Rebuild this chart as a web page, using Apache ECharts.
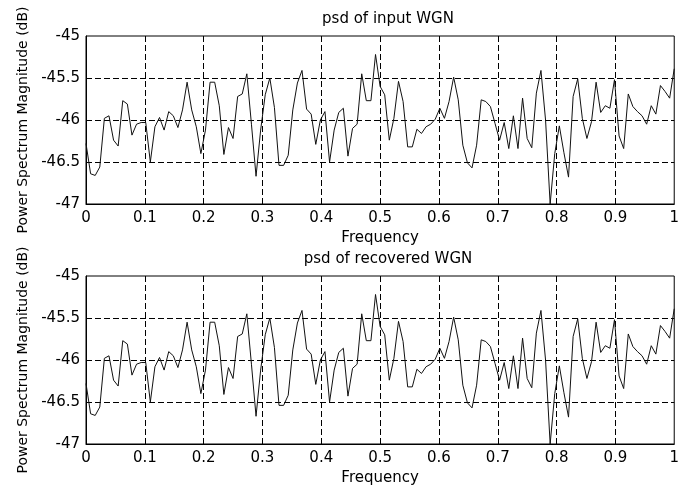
<!DOCTYPE html>
<html>
<head>
<meta charset="utf-8">
<title>psd of WGN</title>
<script src="https://cdn.jsdelivr.net/npm/echarts@6/dist/echarts.min.js"></script>
<style>
  html, body { margin: 0; padding: 0; background: #fff; }
  #chart { width: 682px; height: 493px; }
</style>
</head>
<body>
<div id="chart"></div>
<script>
// psd values (dB), 129 bins from 0 to 1 (normalised frequency)
const inputPsd = [
  -46.28, -46.64, -46.66, -46.56, -45.98, -45.95, -46.24, -46.31, -45.77, -45.81,
  -46.18, -46.05, -46.03, -46.03, -46.5, -46.08, -45.97, -46.12, -45.9, -45.95,
  -46.09, -45.88, -45.55, -45.88, -46.08, -46.4, -46.12, -45.55, -45.55, -45.83,
  -46.41, -46.09, -46.22, -45.72, -45.69, -45.45, -46.05, -46.67, -46.12, -45.7,
  -45.5, -45.85, -46.54, -46.54, -46.42, -45.88, -45.56, -45.41, -45.87, -45.93,
  -46.29, -46.0, -45.9, -46.5, -46.12, -45.91, -45.86, -46.43, -46.1, -46.05,
  -45.45, -45.77, -45.77, -45.22, -45.6, -45.7, -46.24, -45.98, -45.54, -45.78,
  -46.32, -46.32, -46.11, -46.16, -46.08, -46.05, -45.99, -45.86, -45.98, -45.78,
  -45.49, -45.76, -46.3, -46.51, -46.57, -46.3, -45.76, -45.78, -45.84, -46.04,
  -46.24, -46.03, -46.34, -45.95, -46.34, -45.74, -46.22, -46.33, -45.68, -45.41,
  -46.0, -47.0, -46.4, -46.07, -46.39, -46.68, -45.72, -45.51, -45.98, -46.22,
  -46.02, -45.55, -45.91, -45.83, -45.86, -45.52, -46.19, -46.34, -45.69, -45.84,
  -45.9, -45.95, -46.05, -45.83, -45.93, -45.59, -45.66, -45.74, -45.39
];
// the recovered noise plots the same curve as the input
const recoveredPsd = inputPsd.slice();

const titles = ["psd of input WGN", "psd of recovered WGN"];
const xName = "Frequency";
const yName = "Power Spectrum Magnitude (dB)";

const FONT = "DejaVu Sans";
const gridTops = [36, 276];

const chart = echarts.init(document.getElementById("chart"), null, { renderer: "canvas" });

function toPoints(values) {
  const n = values.length - 1;
  return values.map((v, i) => [i / n, v]);
}

const dashed = { color: "#000", width: 1, type: [6, 3] };

function xAxisFor(idx) {
  return {
    gridIndex: idx,
    type: "value",
    min: 0,
    max: 1,
    interval: 0.1,
    name: xName,
    nameLocation: "middle",
    nameGap: 27,
    nameTextStyle: { color: "#000", fontFamily: FONT, fontSize: 15 },
    axisLine: { show: true, lineStyle: { color: "#000", width: 1 } },
    axisTick: { show: false },
    axisLabel: { color: "#000", fontFamily: FONT, fontSize: 15, margin: 7 },
    splitLine: { show: true, showMinLine: false, showMaxLine: false, lineStyle: dashed }
  };
}

function yAxisFor(idx) {
  return {
    gridIndex: idx,
    type: "value",
    min: -47,
    max: -45,
    interval: 0.5,
    name: yName,
    nameLocation: "middle",
    nameGap: 54,
    nameTextStyle: { color: "#000", fontFamily: FONT, fontSize: 14 },
    axisLine: { show: true, lineStyle: { color: "#000", width: 1 } },
    axisTick: { show: false },
    axisLabel: { color: "#000", fontFamily: FONT, fontSize: 15, margin: 6 },
    splitLine: { show: true, showMinLine: false, showMaxLine: false, lineStyle: dashed }
  };
}

chart.setOption({
  animation: false,
  backgroundColor: "#fff",
  title: titles.map((t, i) => ({
    text: t,
    left: 383,
    textAlign: "center",
    top: gridTops[i] - 29,
    textStyle: { color: "#000", fontFamily: FONT, fontSize: 15, fontWeight: "normal" }
  })),
  grid: gridTops.map(top => ({
    left: 86,
    top: top,
    width: 594,
    height: 168,
    show: true,
    borderColor: "#000",
    borderWidth: 1
  })),
  xAxis: [xAxisFor(0), xAxisFor(1)],
  yAxis: [yAxisFor(0), yAxisFor(1)],
  series: [
    {
      type: "line",
      xAxisIndex: 0,
      yAxisIndex: 0,
      data: toPoints(inputPsd),
      showSymbol: false,
      lineStyle: { color: "#111", width: 1 }
    },
    {
      type: "line",
      xAxisIndex: 1,
      yAxisIndex: 1,
      data: toPoints(recoveredPsd),
      showSymbol: false,
      lineStyle: { color: "#111", width: 1 }
    }
  ]
});
</script>
</body>
</html>
